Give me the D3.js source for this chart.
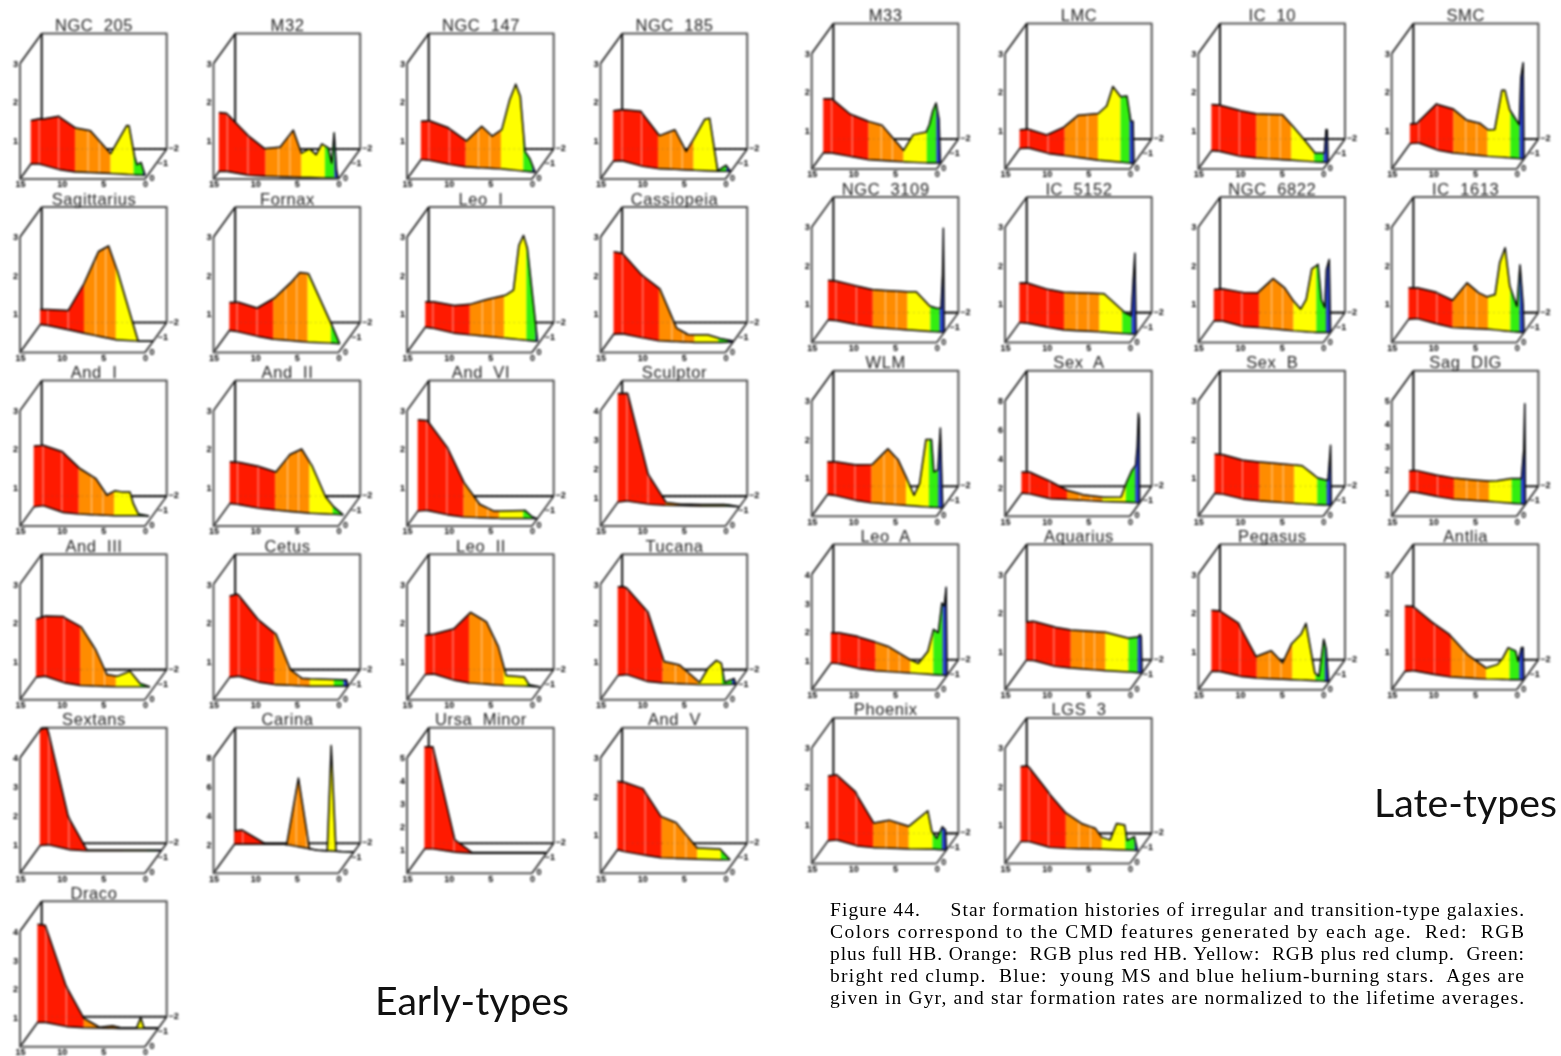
<!DOCTYPE html>
<html><head><meta charset="utf-8">
<script src="https://cdn.jsdelivr.net/npm/d3@7"></script>
<style>
html,body{margin:0;padding:0;background:#fff}
svg{display:block}
#panels{filter:blur(0.85px)}
#captionText{filter:blur(0.5px)}
#groupLabels{filter:blur(0.45px)}
</style></head><body>
<svg id="chart" width="1561" height="1056"></svg>
<script>
// Shared values
const floorAges = [15,14,11,9,4.5,1.5,0];
const bandEdges = [15,9,4.6,1.7,0.55,0];
const bandColors = ["#ff1a00","#ff8c00","#ffff00","#33ee10","#2a3fd0"];
const seamAges = [14,11.2,7.4,6];
const ageTicks = [15,10,5,0];
const depthTicks = [0,-1,-2];
const earlyNames = ["NGC  205","M32","NGC  147","NGC  185","Sagittarius","Fornax","Leo  I","Cassiopeia","And  I","And  II","And  VI","Sculptor","And  III","Cetus","Leo  II","Tucana","Sextans","Carina","Ursa  Minor","And  V","Draco"];
const lateNames = ["M33","LMC","IC  10","SMC","NGC  3109","IC  5152","NGC  6822","IC  1613","WLM","Sex  A","Sex  B","Sag  DIG","Leo  A","Aquarius","Pegasus","Antlia","Phoenix","LGS  3"];
const zMaxEarly = [3,3,3,3,3,3,3,3,3,3,3,4,3,3,3,3,4,8,5,3,4];
const zMaxLate = [3,3,3,3,3,3,3,3,3,8,3,5,4,3,3,3,3,3];

// Early types: age (Gyr), relative rate, and metallicity at floorAges
const age_NGC205=[15,13.4,11.2,8.9,7.1,4.6,2.6,2.3,1.6,1.3,.8,.3];
const sfr_NGC205=[1.13,1.2,1.38,1.14,1.09,.52,1.27,1.27,.48,.27,.33,0];
const feh_NGC205=[-1,-1,-.62,-.47,-.36,-.27,-.24];
const age_M32=[15,14.1,11.3,9.1,7.2,5.6,4.6,3.6,2.8,2.1,1.3,.9,.6,.3,.1];
const sfr_M32=[1.53,1.51,1.05,.72,.77,1.22,.63,.75,.6,.88,.78,.39,1.18,.2,0];
const feh_M32=[-.5,-.5,-.24,-.18,-.11,-.07,-.05];
const age_NGC147=[15,13.9,11.4,8.9,7,5.7,4.5,3.5,2.7,2.1,1.5,.9,.2];
const sfr_NGC147=[1,1.03,.95,.68,1.08,.84,1.02,1.81,2.24,1.93,.52,.35,0];
const feh_NGC147=[-1.29,-1.25,-.96,-.8,-.67,-.51,-.44];
const age_NGC185=[15,14,11.3,8.8,6.9,5.5,4.4,3.2,2.6,1.6,.6,.05];
const sfr_NGC185=[1.31,1.33,1.42,.86,1.03,.48,.88,1.34,1.37,.02,.16,0];
const feh_NGC185=[-1.18,-1.22,-.84,-.69,-.58,-.51,-.51];
const age_Sagittarius=[15,11.2,9,7,5.6,4.4,1.8,0];
const sfr_Sagittarius=[.39,.5,1.29,2.2,2.4,1.8,0,0];
const feh_Sagittarius=[-1.87,-1.8,-1.5,-1.29,-.84,-.75,-.75];
const age_Fornax=[15,13.8,11.2,8.8,6.8,5.6,4.5,1.8,.6];
const sfr_Fornax=[.73,.77,.73,1.08,1.5,1.79,1.78,.56,0];
const feh_Fornax=[-1.47,-1.4,-1.07,-.89,-.69,-.62,-.55];
const age_LeoI=[15,13.9,11,8.9,6.7,4.4,3.4,2.7,2.1,1.6,.3];
const sfr_LeoI=[.66,.69,.72,.8,.97,1.12,1.27,2.45,2.72,2.39,0];
const feh_LeoI=[-1.69,-1.62,-1.29,-1.18,-.96,-.8,-.73];
const age_Cassiopeia=[15,14,11.4,8.9,6.8,5.4,3,1.6,0];
const sfr_Cassiopeia=[2.14,2.09,1.64,1.36,.35,.2,.2,.11,.03];
const feh_Cassiopeia=[-1.22,-1.25,-.96,-.78,-.67,-.67,-.7];
const age_AndI=[15,14.1,11.1,8.8,6.9,5.5,4.5,3.7,2.7,2.3,1.7,.4];
const sfr_AndI=[1.58,1.57,1.57,1.18,.95,.53,.65,.62,.62,.32,.05,0];
const feh_AndI=[-1.28,-1.36,-.91,-.8,-.69,-.69,-.67];
const age_AndII=[15,13.7,11.2,8.9,7.1,5.6,4.3,2.6,1.6,.4];
const sfr_AndII=[1.08,1.1,1.09,.99,1.48,1.65,1.25,.45,.2,0];
const feh_AndII=[-1.51,-1.45,-1.18,-1.07,-.85,-.78,-.73];
const age_AndVI=[15,13.9,11.1,8.9,7,5.3,1.5,.7,0];
const sfr_AndVI=[2.37,2.33,1.74,.89,.35,.19,.21,.06,0];
const feh_AndVI=[-1,-1.05,-.74,-.6,-.51,-.51,-.49];
const age_Sculptor=[15,13.9,11.2,8.9,7.1,1.9,0];
const sfr_Sculptor=[3.76,3.73,1.05,.1,.05,.05,0];
const feh_Sculptor=[-1.6,-1.67,-1.45,-1.38,-1.34,-1.34,-1.29];
const age_AndIII=[15,11.3,8.9,7.1,5.7,4.4,2.9,1.7,.5];
const sfr_AndIII=[1.51,1.71,1.53,.95,.31,.28,.41,.09,0];
const feh_AndIII=[-1.49,-1.56,-1.11,-.94,-.85,-.85,-.85];
const age_Cetus=[15,14.2,11.3,8.8,7,5.6,.2,0];
const sfr_Cetus=[2.11,2.14,1.64,1.32,.41,.2,.17,0];
const feh_Cetus=[-1.49,-1.56,-1.16,-1,-.89,-.89,-.89];
const age_LeoII=[15,14,11.1,8.8,6.8,5.3,4.3,2.1,1.5,.2];
const sfr_LeoII=[1.03,1.04,1.33,1.84,1.62,1,.26,.24,.04,0];
const feh_LeoII=[-1.67,-1.71,-1.29,-1.11,-.94,-.89,-.85];
const age_Tucana=[15,14.4,10.9,8.8,6.9,4.4,3.4,2.4,1.8,1.4,.3,.1];
const sfr_Tucana=[2.31,2.3,1.81,.56,.49,.06,.43,.63,.56,.06,.15,0];
const feh_Tucana=[-1.6,-1.67,-1.22,-1.11,-1,-1,-1.03];
const age_Sextans=[15,14.2,11.3,8.9,0];
const sfr_Sextans=[4.03,4.05,1.16,.03,.03];
const feh_Sextans=[-1.84,-1.89,-1.56,-1.49,-1.49,-1.49,-1.49];
const age_Carina=[15,14.1,11.2,8.7,7.1,5.6,3.3,2.8,2.2,0];
const sfr_Carina=[.94,.99,0,0,4.76,0,0,7.3,0,0];
const feh_Carina=[-1.93,-1.93,-1.93,-1.93,-1.53,-1.44,-1.42];
const age_UrsaMinor=[15,14,11.1,8.9,0];
const sfr_UrsaMinor=[4.42,4.42,.54,.03,.03];
const feh_UrsaMinor=[-1.62,-1.62,-1.4,-1.33,-1.33,-1.33,-1.33];
const age_AndV=[15,14,11.5,9.1,7.2,4.6,1.8,.6];
const sfr_AndV=[1.78,1.8,1.72,1.08,.93,.29,.28,0];
const feh_AndV=[-1.56,-1.44,-1.18,-1.02,-.93,-.89,-.89];
const age_Draco=[15,14.1,11.3,9,7.1,5.5,4.4,2.6,2.1,1.7,0];
const sfr_Draco=[3.4,3.37,1.45,.33,.03,.09,.02,.02,.38,.02,.02];
const feh_Draco=[-1.62,-1.62,-1.33,-1.27,-1.22,-1.22,-1.22];

// Late types
const age_M33=[15,14,11.5,9.1,7.3,4.6,3.4,1.8,1.4,1,.6,.24,.08];
const sfr_M33=[1.41,1.41,1.1,1,.92,.3,.72,.8,1,1.35,1.56,1.13,0];
const feh_M33=[-1.07,-1.07,-.8,-.62,-.47,-.4,-.4];
const age_LMC=[15,14.3,11.4,9.1,7.2,4.6,3.5,2.7,1.7,.9,.4,.1,0];
const sfr_LMC=[.49,.49,.47,.74,1.1,1.21,1.43,1.95,1.7,1.74,1.1,1.1,0];
const feh_LMC=[-1.36,-1.4,-1.02,-.89,-.58,-.44,-.36];
const age_IC10=[15,13.9,11.2,9,5.7,4.6,3,1.6,.45,.25,.1,0];
const sfr_IC10=[1.2,1.2,1.19,1.15,1.17,.93,.57,.23,.24,.85,.85,0];
const feh_IC10=[-1.22,-1.18,-.84,-.73,-.58,-.47,-.44];
const age_SMC=[15,14.2,11.3,9,7.3,5.6,4.5,3.7,2.8,2.4,1.8,.6,.4,.1,0];
const sfr_SMC=[.51,.52,1.19,1.14,.89,.84,.69,.71,1.74,1.75,1.25,.88,2.1,2.5,0];
const feh_SMC=[-1.69,-1.73,-1.24,-1.07,-.84,-.73,-.67];
const age_NGC3109=[15,14.2,11.6,9.1,4.6,3.5,1.8,1,.4,.2,.1,0];
const sfr_NGC3109=[1.03,1.03,1.01,.98,.99,1.01,.66,.62,.62,1.5,2.7,0];
const feh_NGC3109=[-1.51,-1.47,-1.18,-1.02,-.84,-.73,-.69];
const age_IC5152=[15,14.1,11.4,9.2,4,1.4,.6,.35,.15,0];
const sfr_IC5152=[1.03,1.05,.99,.98,1,.55,.47,1.4,2.1,0];
const feh_IC5152=[-1.33,-1.29,-1,-.84,-.71,-.6,-.56];
const age_NGC6822=[15,11.3,9.2,7.2,5.7,4.6,3.7,3,2.3,1.5,1.1,.7,.5,.16,0];
const sfr_NGC6822=[.82,.88,.9,1.31,1.09,.78,.58,.84,1.64,1.77,.86,.65,1.64,1.9,0];
const feh_NGC6822=[-1.44,-1.44,-1.07,-1,-.78,-.67,-.67];
const age_IC1613=[15,14.3,11.4,9,7.2,5.8,4.7,3.7,3.1,2.4,1.8,.9,.5,.1,0];
const sfr_IC1613=[.82,.8,.82,.71,1.18,.94,.84,.92,1.76,2.16,1.18,.67,1.75,.7,0];
const feh_IC1613=[-1.56,-1.6,-1.22,-1,-.89,-.73,-.67];
const age_WLM=[15,13.9,11.2,8.9,6.9,5.6,4.5,3.6,2.9,2.1,1.4,1.1,.6,.3,.1,0];
const sfr_WLM=[.85,.88,.92,1,1.44,1.17,.7,.28,.6,1.75,1.76,.92,.98,2.07,.63,0];
const feh_WLM=[-1.45,-1.38,-1.05,-.89,-.71,-.6,-.56];
const age_SexA=[15,14,11.1,8.9,7,4.5,2.3,1.7,1,.5,.3,.15,.05,0];
const sfr_SexA=[1.47,1.51,1.21,.63,.4,.3,.35,1.3,2.2,2.6,3.9,6.2,5.8,0];
const feh_SexA=[-1.53,-1.49,-1.16,-1.11,-.98,-.93,-.89];
const age_SexB=[15,14.1,11.2,8.9,4.4,3.6,1.7,.9,.4,.2,.08,0];
const sfr_SexB=[1.03,1.03,1.01,1.01,1,.99,.7,.66,.65,1.2,1.56,0];
const feh_SexB=[-1.51,-1.47,-1.13,-1.02,-.85,-.76,-.73];
const age_SagDIG=[15,14.3,11.4,9.1,4.6,3.6,1.8,.5,.2,.08,0];
const sfr_SagDIG=[.92,.95,.92,.92,.88,.92,1.07,1.1,2.35,4.35,0];
const feh_SagDIG=[-1.62,-1.58,-1.29,-1.13,-.98,-.85,-.8];
const age_LeoA=[15,14.1,11.4,9.1,7.4,4.7,3.6,2.4,1.7,1.1,.65,.35,.12,0];
const sfr_LeoA=[1.05,1.07,1.1,1,.87,.47,.36,.8,1.57,1.47,2.5,2.4,3.05,0];
const feh_LeoA=[-1.78,-1.74,-1.4,-1.27,-1.11,-1,-.96];
const age_Aquarius=[15,14.2,11.3,9.1,4.6,1.8,.5,.25,.1,0];
const sfr_Aquarius=[1,1.02,1.02,.99,1,.88,.93,1,.95,0];
const feh_Aquarius=[-1.96,-1.94,-1.56,-1.45,-1.27,-1.18,-1.11];
const age_Pegasus=[15,14.1,11.4,9.1,7.2,5.8,4.7,3.5,2.9,1.8,1.3,.7,.4,.1];
const sfr_Pegasus=[1.59,1.58,1.37,.56,.73,.43,.93,1.2,1.48,.2,.12,1.09,.84,0];
const feh_Pegasus=[-1.22,-1.22,-.89,-.78,-.67,-.6,-.56];
const age_Antlia=[15,14.2,11.6,9.2,6.9,4.6,3.2,2.6,1.9,1,.7,.3,.1,0];
const sfr_Antlia=[1.7,1.68,1.36,1.1,.61,.29,.39,.55,.83,.75,.48,.84,.84,0];
const feh_Antlia=[-1.22,-1.27,-1,-.85,-.71,-.67,-.67];
const age_Phoenix=[15,14.1,11.3,8.9,7,4.6,2.3,1.8,1.2,.5,.1,0];
const sfr_Phoenix=[1.68,1.7,1.39,.64,.73,.59,1,.46,.29,.6,.52,0];
const feh_Phoenix=[-1.51,-1.56,-1.16,-1.05,-.96,-.94,-.89];
const age_LGS3=[15,14.2,11.2,9,7,5.4,4.6,3.6,2.8,1.8,1.5,.6,.2];
const sfr_LGS3=[1.95,1.97,1.42,.92,.65,.54,.31,.25,.68,.65,.25,.36,0];
const feh_LGS3=[-1.45,-1.45,-1.07,-1,-.94,-.89,-.85];

const earlySeries = [
 [age_NGC205,sfr_NGC205,feh_NGC205],[age_M32,sfr_M32,feh_M32],[age_NGC147,sfr_NGC147,feh_NGC147],[age_NGC185,sfr_NGC185,feh_NGC185],
 [age_Sagittarius,sfr_Sagittarius,feh_Sagittarius],[age_Fornax,sfr_Fornax,feh_Fornax],[age_LeoI,sfr_LeoI,feh_LeoI],[age_Cassiopeia,sfr_Cassiopeia,feh_Cassiopeia],
 [age_AndI,sfr_AndI,feh_AndI],[age_AndII,sfr_AndII,feh_AndII],[age_AndVI,sfr_AndVI,feh_AndVI],[age_Sculptor,sfr_Sculptor,feh_Sculptor],
 [age_AndIII,sfr_AndIII,feh_AndIII],[age_Cetus,sfr_Cetus,feh_Cetus],[age_LeoII,sfr_LeoII,feh_LeoII],[age_Tucana,sfr_Tucana,feh_Tucana],
 [age_Sextans,sfr_Sextans,feh_Sextans],[age_Carina,sfr_Carina,feh_Carina],[age_UrsaMinor,sfr_UrsaMinor,feh_UrsaMinor],[age_AndV,sfr_AndV,feh_AndV],
 [age_Draco,sfr_Draco,feh_Draco]];
const lateSeries = [
 [age_M33,sfr_M33,feh_M33],[age_LMC,sfr_LMC,feh_LMC],[age_IC10,sfr_IC10,feh_IC10],[age_SMC,sfr_SMC,feh_SMC],
 [age_NGC3109,sfr_NGC3109,feh_NGC3109],[age_IC5152,sfr_IC5152,feh_IC5152],[age_NGC6822,sfr_NGC6822,feh_NGC6822],[age_IC1613,sfr_IC1613,feh_IC1613],
 [age_WLM,sfr_WLM,feh_WLM],[age_SexA,sfr_SexA,feh_SexA],[age_SexB,sfr_SexB,feh_SexB],[age_SagDIG,sfr_SagDIG,feh_SagDIG],
 [age_LeoA,sfr_LeoA,feh_LeoA],[age_Aquarius,sfr_Aquarius,feh_Aquarius],[age_Pegasus,sfr_Pegasus,feh_Pegasus],[age_Antlia,sfr_Antlia,feh_Antlia],
 [age_Phoenix,sfr_Phoenix,feh_Phoenix],[age_LGS3,sfr_LGS3,feh_LGS3]];

const captionLines = [
 "Figure 44.     Star formation histories of irregular and transition-type galaxies.",
 "Colors correspond to the CMD features generated by each age.  Red:  RGB",
 "plus full HB. Orange:  RGB plus red HB. Yellow:  RGB plus red clump.  Green:",
 "bright red clump.  Blue:  young MS and blue helium-burning stars.  Ages are",
 "given in Gyr, and star formation rates are normalized to the lifetime averages."];

// Drawing
const svg = d3.select("#chart");
const root = svg.append("g").attr("id","panels");

const W = 125, H = 115.5, DX = 21.7, DY = 30;
const xAge = d3.scaleLinear().domain([15,0]).range([0,W]);
const dX = d3.scaleLinear().domain([0,-2]).range([0,DX]);
const dY = d3.scaleLinear().domain([0,-2]).range([0,-DY]);

function drawPanel(name, zMax, series, ox, oy){
  const [ages,sfr,feh] = series;
  const g = root.append("g").attr("transform",`translate(${ox},${oy})`);
  const z = d3.scaleLinear().domain([0,zMax]).range([0,-H]);
  const depthAt = d3.scaleLinear().domain(floorAges).range(feh).clamp(true);
  const sfrAt = d3.scaleLinear().domain(ages).range(sfr).clamp(true);
  const last = ages[ages.length-1];
  const px = a => xAge(a)+dX(depthAt(a));
  const yFloor = a => dY(depthAt(a));
  const yTop = a => dY(depthAt(a))+z(sfrAt(a));
  const all = Array.from(new Set([...ages,...floorAges,...bandEdges,...seamAges])).filter(a=>a>=last).sort((a,b)=>b-a);
  const path = (pts,c,w)=>g.append("path").attr("d",d3.line()(pts)).attr("fill","none").attr("stroke",c).attr("stroke-width",w).attr("stroke-linejoin","round");

  // back walls and hidden floor edge
  const back=-DY;
  path([[DX,back-H],[DX+W,back-H],[DX+W,back]],"#555",2);
  path([[DX,back-H],[DX,back]],"#000",1.9);
  path([[DX,back],[DX+W,back]],"#111",2.1);
  path([[0,0],[DX,back]],"#111",1.6);

  // ribbon bands
  const area = d3.area().x(px).y0(yFloor).y1(yTop);
  bandColors.forEach((c,i)=>{
    const hi=bandEdges[i], lo=Math.max(bandEdges[i+1],last);
    if(hi<=last) return;
    const seg=all.filter(a=>a<=hi&&a>=lo);
    g.append("path").attr("d",area(seg)).attr("fill",c).attr("stroke",c).attr("stroke-width",0.25);
  });
  // seams between bins
  seamAges.forEach(a=>{
    if(sfrAt(a)<0.12) return;
    path([[px(a),yFloor(a)],[px(a),yTop(a)]],"#fff",1).attr("stroke-opacity",0.6);
  });
  // dotted trace of the back floor through the ribbon
  path([[DX,back],[DX+W,back]],"#555",1).attr("stroke-dasharray","1 4").attr("stroke-opacity",0.5);
  // ribbon outlines
  const line = d3.line();
  g.append("path").attr("d",line(all.map(a=>[px(a),yTop(a)]))).attr("fill","none").attr("stroke","#000").attr("stroke-width",1.5).attr("stroke-linejoin","round");
  g.append("path").attr("d",line(all.map(a=>[px(a),yFloor(a)]))).attr("fill","none").attr("stroke","#000").attr("stroke-width",1.4);

  // front frame
  path([[0,-H],[0,0],[W,0]],"#555",2);
  path([[0,-H],[DX,back-H]],"#111",1.6);
  path([[W,0],[DX+W,back]],"#222",1.6);

  // axes
  const xAxis = d3.axisBottom(xAge).tickValues(ageTicks).tickSize(0).tickPadding(2).tickFormat(d3.format("d"));
  const zAxis = d3.axisLeft(z).ticks(zMax>5?4:zMax).tickSize(0).tickPadding(2).tickFormat(d=>d===0?"":d3.format("d")(d));
  [g.append("g").call(xAxis), g.append("g").call(zAxis)].forEach(a=>{
    a.select(".domain").remove();
    a.selectAll("text").attr("font-family","Liberation Sans").attr("font-size",9).attr("font-weight","bold").attr("fill","#000");
  });
  g.selectAll("text.depth").data(depthTicks).join("text").attr("class","depth")
    .attr("x",d=>W+dX(d)+7).attr("y",d=>dY(d)+2).attr("text-anchor","middle")
    .attr("font-family","Liberation Sans").attr("font-size",9).attr("font-weight","bold").attr("fill","#000")
    .text(d=>d===0?"0":"\u2212"+Math.abs(d));

  // title
  g.append("text").attr("x",74).attr("y",-H-DY-2.5).attr("text-anchor","middle")
    .attr("font-family","Liberation Sans").attr("font-size",16.5).attr("fill","#222").attr("letter-spacing",0.6)
    .style("white-space","pre").text(name);
}

const earlyX=[20,213.5,407,600.5], lateX=[811.7,1005,1198.3,1391.7];
earlyNames.forEach((n,i)=>drawPanel(n,zMaxEarly[i],earlySeries[i],earlyX[i%4],179+173.55*Math.floor(i/4)));
lateNames.forEach((n,i)=>drawPanel(n,zMaxLate[i],lateSeries[i],lateX[i%4],169+173.6*Math.floor(i/4)));

// caption
const cap = svg.append("g").attr("id","captionText");
cap.selectAll("text").data(captionLines).join("text")
  .attr("x",830).attr("y",(d,i)=>915.5+22.2*i).attr("textLength",694).attr("lengthAdjust","spacing")
  .attr("font-family","Liberation Serif").attr("font-size",19.5).attr("fill","#000")
  .style("white-space","pre").text(d=>d);

// group labels
const lab = svg.append("g").attr("id","groupLabels");
lab.append("text").attr("x",375).attr("y",1015).attr("textLength",194).attr("lengthAdjust","spacingAndGlyphs")
  .attr("font-family","Lato").attr("font-size",38).attr("fill","#111").text("Early-types");
lab.append("text").attr("x",1374).attr("y",817).attr("textLength",183).attr("lengthAdjust","spacingAndGlyphs")
  .attr("font-family","Lato").attr("font-size",38).attr("fill","#111").text("Late-types");
</script>
</body></html>
